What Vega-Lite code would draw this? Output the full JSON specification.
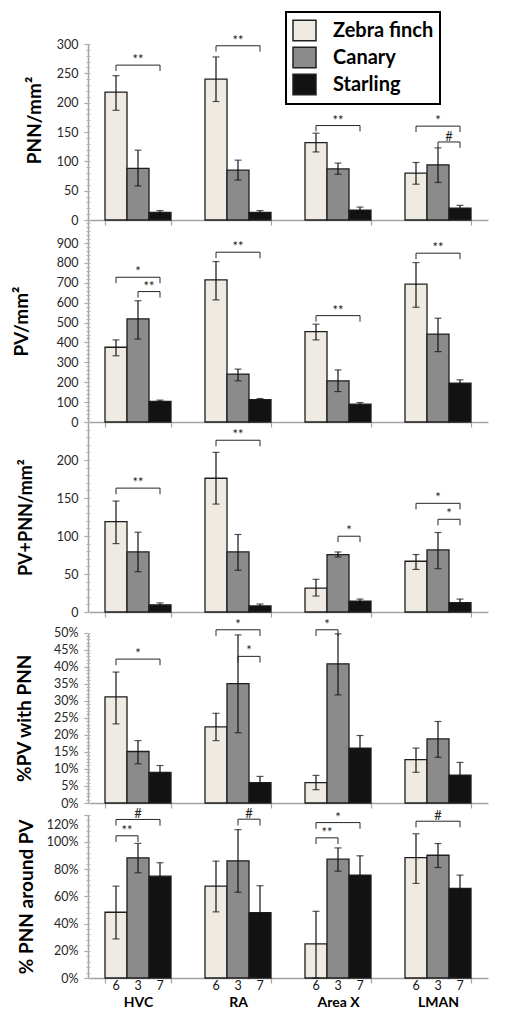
{
  "$schema": "https://vega.github.io/schema/vega-lite/v6.json",
  "padding": {"left": 12, "top": 11, "right": 5, "bottom": 5},
  "bounds": "flush",
  "spacing": 0,
  "datasets": {
    "bars": [
      {"panel": "P1", "region": "HVC", "species": "Zebra finch", "mean": 218, "lo": 187, "hi": 246},
      {"panel": "P1", "region": "HVC", "species": "Canary", "mean": 88, "lo": 58, "hi": 119},
      {"panel": "P1", "region": "HVC", "species": "Starling", "mean": 13, "lo": 10, "hi": 16},
      {"panel": "P1", "region": "RA", "species": "Zebra finch", "mean": 240, "lo": 202, "hi": 278},
      {"panel": "P1", "region": "RA", "species": "Canary", "mean": 85, "lo": 68, "hi": 102},
      {"panel": "P1", "region": "RA", "species": "Starling", "mean": 13, "lo": 10, "hi": 16},
      {"panel": "P1", "region": "Area X", "species": "Zebra finch", "mean": 132, "lo": 116, "hi": 148},
      {"panel": "P1", "region": "Area X", "species": "Canary", "mean": 87, "lo": 78, "hi": 97},
      {"panel": "P1", "region": "Area X", "species": "Starling", "mean": 17, "lo": 12, "hi": 22},
      {"panel": "P1", "region": "LMAN", "species": "Zebra finch", "mean": 80, "lo": 61, "hi": 98},
      {"panel": "P1", "region": "LMAN", "species": "Canary", "mean": 94, "lo": 64, "hi": 123},
      {"panel": "P1", "region": "LMAN", "species": "Starling", "mean": 20, "lo": 15, "hi": 25},
      {"panel": "P2", "region": "HVC", "species": "Zebra finch", "mean": 376, "lo": 333, "hi": 413},
      {"panel": "P2", "region": "HVC", "species": "Canary", "mean": 519, "lo": 417, "hi": 610},
      {"panel": "P2", "region": "HVC", "species": "Starling", "mean": 103, "lo": 96, "hi": 110},
      {"panel": "P2", "region": "RA", "species": "Zebra finch", "mean": 715, "lo": 614, "hi": 807},
      {"panel": "P2", "region": "RA", "species": "Canary", "mean": 241, "lo": 207, "hi": 266},
      {"panel": "P2", "region": "RA", "species": "Starling", "mean": 113, "lo": 108, "hi": 118},
      {"panel": "P2", "region": "Area X", "species": "Zebra finch", "mean": 455, "lo": 413, "hi": 492},
      {"panel": "P2", "region": "Area X", "species": "Canary", "mean": 207, "lo": 153, "hi": 262},
      {"panel": "P2", "region": "Area X", "species": "Starling", "mean": 90, "lo": 82, "hi": 98},
      {"panel": "P2", "region": "LMAN", "species": "Zebra finch", "mean": 693, "lo": 577, "hi": 802},
      {"panel": "P2", "region": "LMAN", "species": "Canary", "mean": 442, "lo": 354, "hi": 522},
      {"panel": "P2", "region": "LMAN", "species": "Starling", "mean": 195, "lo": 178, "hi": 212},
      {"panel": "P3", "region": "HVC", "species": "Zebra finch", "mean": 119, "lo": 90, "hi": 146},
      {"panel": "P3", "region": "HVC", "species": "Canary", "mean": 79, "lo": 53, "hi": 105},
      {"panel": "P3", "region": "HVC", "species": "Starling", "mean": 9.5, "lo": 7, "hi": 12},
      {"panel": "P3", "region": "RA", "species": "Zebra finch", "mean": 176, "lo": 142, "hi": 210},
      {"panel": "P3", "region": "RA", "species": "Canary", "mean": 79, "lo": 55, "hi": 102},
      {"panel": "P3", "region": "RA", "species": "Starling", "mean": 8, "lo": 6, "hi": 10.5},
      {"panel": "P3", "region": "Area X", "species": "Zebra finch", "mean": 31.5, "lo": 21, "hi": 43},
      {"panel": "P3", "region": "Area X", "species": "Canary", "mean": 75.6, "lo": 72.4, "hi": 79},
      {"panel": "P3", "region": "Area X", "species": "Starling", "mean": 14.4, "lo": 12, "hi": 17},
      {"panel": "P3", "region": "LMAN", "species": "Zebra finch", "mean": 66.8, "lo": 56, "hi": 75.6},
      {"panel": "P3", "region": "LMAN", "species": "Canary", "mean": 81.7, "lo": 57, "hi": 104.6},
      {"panel": "P3", "region": "LMAN", "species": "Starling", "mean": 12.3, "lo": 8, "hi": 17},
      {"panel": "P4", "region": "HVC", "species": "Zebra finch", "mean": 0.311, "lo": 0.232, "hi": 0.384},
      {"panel": "P4", "region": "HVC", "species": "Canary", "mean": 0.151, "lo": 0.115, "hi": 0.183},
      {"panel": "P4", "region": "HVC", "species": "Starling", "mean": 0.09, "lo": 0.071, "hi": 0.11},
      {"panel": "P4", "region": "RA", "species": "Zebra finch", "mean": 0.223, "lo": 0.183, "hi": 0.263},
      {"panel": "P4", "region": "RA", "species": "Canary", "mean": 0.35, "lo": 0.206, "hi": 0.493},
      {"panel": "P4", "region": "RA", "species": "Starling", "mean": 0.06, "lo": 0.044, "hi": 0.078},
      {"panel": "P4", "region": "Area X", "species": "Zebra finch", "mean": 0.06, "lo": 0.039, "hi": 0.081},
      {"panel": "P4", "region": "Area X", "species": "Canary", "mean": 0.408, "lo": 0.317, "hi": 0.496},
      {"panel": "P4", "region": "Area X", "species": "Starling", "mean": 0.161, "lo": 0.125, "hi": 0.198},
      {"panel": "P4", "region": "LMAN", "species": "Zebra finch", "mean": 0.127, "lo": 0.09, "hi": 0.161},
      {"panel": "P4", "region": "LMAN", "species": "Canary", "mean": 0.188, "lo": 0.134, "hi": 0.239},
      {"panel": "P4", "region": "LMAN", "species": "Starling", "mean": 0.082, "lo": 0.044, "hi": 0.119},
      {"panel": "P5", "region": "HVC", "species": "Zebra finch", "mean": 0.483, "lo": 0.287, "hi": 0.675},
      {"panel": "P5", "region": "HVC", "species": "Canary", "mean": 0.883, "lo": 0.773, "hi": 0.989},
      {"panel": "P5", "region": "HVC", "species": "Starling", "mean": 0.748, "lo": 0.638, "hi": 0.847},
      {"panel": "P5", "region": "RA", "species": "Zebra finch", "mean": 0.675, "lo": 0.486, "hi": 0.859},
      {"panel": "P5", "region": "RA", "species": "Canary", "mean": 0.861, "lo": 0.63, "hi": 1.09},
      {"panel": "P5", "region": "RA", "species": "Starling", "mean": 0.48, "lo": 0.268, "hi": 0.678},
      {"panel": "P5", "region": "Area X", "species": "Zebra finch", "mean": 0.251, "lo": 0, "hi": 0.49},
      {"panel": "P5", "region": "Area X", "species": "Canary", "mean": 0.873, "lo": 0.785, "hi": 0.956},
      {"panel": "P5", "region": "Area X", "species": "Starling", "mean": 0.756, "lo": 0.617, "hi": 0.898},
      {"panel": "P5", "region": "LMAN", "species": "Zebra finch", "mean": 0.885, "lo": 0.695, "hi": 1.06},
      {"panel": "P5", "region": "LMAN", "species": "Canary", "mean": 0.902, "lo": 0.812, "hi": 0.988},
      {"panel": "P5", "region": "LMAN", "species": "Starling", "mean": 0.659, "lo": 0.554, "hi": 0.756}
    ],
    "brackets": [
      {"panel": "P1", "region": "HVC", "from": "Zebra finch", "to": "Starling", "y": 264, "leg": 254, "label": "**"},
      {"panel": "P1", "region": "RA", "from": "Zebra finch", "to": "Starling", "y": 297, "leg": 287, "label": "**"},
      {"panel": "P1", "region": "Area X", "from": "Zebra finch", "to": "Starling", "y": 161, "leg": 151, "label": "**"},
      {"panel": "P1", "region": "LMAN", "from": "Zebra finch", "to": "Starling", "y": 160, "leg": 150, "label": "*"},
      {"panel": "P1", "region": "LMAN", "from": "Canary", "to": "Starling", "y": 133, "leg": 123, "label": "#"},
      {"panel": "P2", "region": "HVC", "from": "Zebra finch", "to": "Starling", "y": 728, "leg": 698, "label": "*"},
      {"panel": "P2", "region": "HVC", "from": "Canary", "to": "Starling", "y": 656, "leg": 626, "label": "**"},
      {"panel": "P2", "region": "RA", "from": "Zebra finch", "to": "Starling", "y": 854, "leg": 824, "label": "**"},
      {"panel": "P2", "region": "Area X", "from": "Zebra finch", "to": "Starling", "y": 535, "leg": 505, "label": "**"},
      {"panel": "P2", "region": "LMAN", "from": "Zebra finch", "to": "Starling", "y": 849, "leg": 819, "label": "**"},
      {"panel": "P3", "region": "HVC", "from": "Zebra finch", "to": "Starling", "y": 163, "leg": 155, "label": "**"},
      {"panel": "P3", "region": "RA", "from": "Zebra finch", "to": "Starling", "y": 226, "leg": 218, "label": "**"},
      {"panel": "P3", "region": "Area X", "from": "Canary", "to": "Starling", "y": 99.7, "leg": 92, "label": "*"},
      {"panel": "P3", "region": "LMAN", "from": "Zebra finch", "to": "Starling", "y": 143, "leg": 135, "label": "*"},
      {"panel": "P3", "region": "LMAN", "from": "Canary", "to": "Starling", "y": 122, "leg": 114, "label": "*"},
      {"panel": "P4", "region": "HVC", "from": "Zebra finch", "to": "Starling", "y": 0.422, "leg": 0.404, "label": "*"},
      {"panel": "P4", "region": "RA", "from": "Zebra finch", "to": "Starling", "y": 0.508, "leg": 0.49, "label": "*"},
      {"panel": "P4", "region": "RA", "from": "Canary", "to": "Starling", "y": 0.43, "leg": 0.412, "label": "*"},
      {"panel": "P4", "region": "Area X", "from": "Zebra finch", "to": "Canary", "y": 0.508, "leg": 0.49, "label": "*"},
      {"panel": "P5", "region": "HVC", "from": "Zebra finch", "to": "Starling", "y": 1.165, "leg": 1.12, "label": "#"},
      {"panel": "P5", "region": "HVC", "from": "Zebra finch", "to": "Canary", "y": 1.045, "leg": 1.0, "label": "**"},
      {"panel": "P5", "region": "RA", "from": "Canary", "to": "Starling", "y": 1.167, "leg": 1.12, "label": "#"},
      {"panel": "P5", "region": "Area X", "from": "Zebra finch", "to": "Starling", "y": 1.142, "leg": 1.097, "label": "*"},
      {"panel": "P5", "region": "Area X", "from": "Zebra finch", "to": "Canary", "y": 1.03, "leg": 0.985, "label": "**"},
      {"panel": "P5", "region": "LMAN", "from": "Zebra finch", "to": "Starling", "y": 1.152, "leg": 1.107, "label": "#"}
    ],
    "counts": [
      {"region": "HVC", "species": "Zebra finch", "n": 6},
      {"region": "HVC", "species": "Canary", "n": 3},
      {"region": "HVC", "species": "Starling", "n": 7},
      {"region": "RA", "species": "Zebra finch", "n": 6},
      {"region": "RA", "species": "Canary", "n": 3},
      {"region": "RA", "species": "Starling", "n": 7},
      {"region": "Area X", "species": "Zebra finch", "n": 6},
      {"region": "Area X", "species": "Canary", "n": 3},
      {"region": "Area X", "species": "Starling", "n": 7},
      {"region": "LMAN", "species": "Zebra finch", "n": 6},
      {"region": "LMAN", "species": "Canary", "n": 3},
      {"region": "LMAN", "species": "Starling", "n": 7}
    ]
  },
  "vconcat": [
    {
      "width": 400, "height": 176,
      "resolve": {"axis": {"y": "independent"}},
      "encoding": {"x": {"field": "region", "type": "nominal", "title": null, "scale": {"domain": ["HVC", "RA", "Area X", "LMAN"], "paddingInner": 0.34, "paddingOuter": 0.17}, "axis": {"labels": false}}},
      "layer": [
        {"data": {"name": "bars"}, "transform": [{"filter": "datum.panel == 'P1'"}],
         "mark": {"type": "bar", "stroke": "#1e1e1e", "strokeWidth": 1.3},
         "encoding": {
           "xOffset": {"field": "species", "type": "nominal", "scale": {"domain": ["Zebra finch", "Canary", "Starling"], "paddingInner": 0, "paddingOuter": 0}},
           "y": {"field": "mean", "type": "quantitative", "title": "PNN/mm²", "scale": {"domain": [0, 300], "nice": false}, "axis": {"orient": "left", "values": [0, 50, 100, 150, 200, 250, 300], "titlePadding": 12, "titleY": 76}},
           "fill": {"field": "species", "type": "nominal", "title": null, "scale": {"domain": ["Zebra finch", "Canary", "Starling"], "range": ["#efebe2", "#8b8b8b", "#121212"]}}
         }},
        {"data": {"name": "bars"}, "transform": [{"filter": "datum.panel == 'P1'"}],
         "mark": {"type": "rule", "color": "#111", "strokeWidth": 1.2},
         "encoding": {
           "xOffset": {"field": "species", "type": "nominal", "scale": {"domain": ["Zebra finch", "Canary", "Starling"], "paddingInner": 0, "paddingOuter": 0}},
           "y": {"field": "lo", "type": "quantitative", "scale": {"domain": [0, 300], "nice": false}, "axis": {"orient": "left", "domain": false, "labels": false, "tickSize": 4, "offset": -2, "tickCount": 30, "tickColor": "#b5b5b5", "tickWidth": 1, "title": null}},
           "y2": {"field": "hi"}
         }},
        {"data": {"name": "bars"}, "transform": [{"filter": "datum.panel == 'P1'"}, {"fold": ["lo", "hi"], "as": ["bound", "v"]}],
         "mark": {"type": "tick", "color": "#111", "size": 7, "thickness": 1.2},
         "encoding": {
           "xOffset": {"field": "species", "type": "nominal", "scale": {"domain": ["Zebra finch", "Canary", "Starling"], "paddingInner": 0, "paddingOuter": 0}},
           "y": {"field": "v", "type": "quantitative", "scale": {"domain": [0, 300], "nice": false}, "axis": null}
         }},
        {"data": {"name": "brackets"}, "transform": [{"filter": "datum.panel == 'P1'"}, {"fold": ["from", "to"], "as": ["end", "species"]}],
         "mark": {"type": "rule", "color": "#262626", "strokeWidth": 1},
         "encoding": {
           "xOffset": {"field": "species", "type": "nominal", "scale": {"domain": ["Zebra finch", "Canary", "Starling"], "paddingInner": 0, "paddingOuter": 0}},
           "y": {"field": "y", "type": "quantitative", "scale": {"domain": [0, 300], "nice": false}, "axis": null},
           "y2": {"field": "leg"}
         }},
        {"data": {"name": "brackets"}, "transform": [{"filter": "datum.panel == 'P1'"}, {"fold": ["from", "to"], "as": ["end", "species"]}],
         "mark": {"type": "line", "color": "#262626", "strokeWidth": 1},
         "encoding": {
           "xOffset": {"field": "species", "type": "nominal", "scale": {"domain": ["Zebra finch", "Canary", "Starling"], "paddingInner": 0, "paddingOuter": 0}},
           "y": {"field": "y", "type": "quantitative", "scale": {"domain": [0, 300], "nice": false}, "axis": null},
           "detail": [{"field": "region"}, {"field": "y"}]
         }},
        {"data": {"name": "brackets"}, "transform": [{"filter": "datum.panel == 'P1' && datum.from == 'Zebra finch' && datum.to == 'Starling'"}],
         "mark": {"type": "text", "baseline": "alphabetic", "dy": -1, "fontSize": 13, "color": "#222"},
         "encoding": {
           "xOffset": {"datum": "Canary", "type": "nominal", "scale": {"domain": ["Zebra finch", "Canary", "Starling"], "paddingInner": 0, "paddingOuter": 0}},
           "y": {"field": "y", "type": "quantitative", "scale": {"domain": [0, 300], "nice": false}, "axis": null},
           "text": {"field": "label"}
         }},
        {"data": {"name": "brackets"}, "transform": [{"filter": "datum.panel == 'P1' && !(datum.from == 'Zebra finch' && datum.to == 'Starling')"}],
         "mark": {"type": "text", "baseline": "alphabetic", "dy": -1, "dx": 11, "fontSize": 13, "color": "#222"},
         "encoding": {
           "xOffset": {"field": "from", "type": "nominal", "scale": {"domain": ["Zebra finch", "Canary", "Starling"], "paddingInner": 0, "paddingOuter": 0}},
           "y": {"field": "y", "type": "quantitative", "scale": {"domain": [0, 300], "nice": false}, "axis": null},
           "text": {"field": "label"}
         }}
      ]
    },
    {
      "width": 400, "height": 202,
      "resolve": {"axis": {"y": "independent"}},
      "encoding": {"x": {"field": "region", "type": "nominal", "title": null, "scale": {"domain": ["HVC", "RA", "Area X", "LMAN"], "paddingInner": 0.34, "paddingOuter": 0.17}, "axis": {"labels": false}}},
      "layer": [
        {"data": {"name": "bars"}, "transform": [{"filter": "datum.panel == 'P2'"}],
         "mark": {"type": "bar", "stroke": "#1e1e1e", "strokeWidth": 1.3},
         "encoding": {
           "xOffset": {"field": "species", "type": "nominal", "scale": {"domain": ["Zebra finch", "Canary", "Starling"], "paddingInner": 0, "paddingOuter": 0}},
           "y": {"field": "mean", "type": "quantitative", "title": "PV/mm²", "scale": {"domain": [0, 1016], "nice": false}, "axis": {"orient": "left", "values": [0, 100, 200, 300, 400, 500, 600, 700, 800, 900], "titlePadding": 25}},
           "fill": {"field": "species", "type": "nominal", "title": null, "scale": {"domain": ["Zebra finch", "Canary", "Starling"], "range": ["#efebe2", "#8b8b8b", "#121212"]}}
         }},
        {"data": {"name": "bars"}, "transform": [{"filter": "datum.panel == 'P2'"}],
         "mark": {"type": "rule", "color": "#111", "strokeWidth": 1.2},
         "encoding": {
           "xOffset": {"field": "species", "type": "nominal", "scale": {"domain": ["Zebra finch", "Canary", "Starling"], "paddingInner": 0, "paddingOuter": 0}},
           "y": {"field": "lo", "type": "quantitative", "scale": {"domain": [0, 1016], "nice": false}, "axis": {"orient": "left", "domain": false, "labels": false, "tickSize": 4, "offset": -2, "tickCount": 50, "tickColor": "#b5b5b5", "tickWidth": 1, "title": null}},
           "y2": {"field": "hi"}
         }},
        {"data": {"name": "bars"}, "transform": [{"filter": "datum.panel == 'P2'"}, {"fold": ["lo", "hi"], "as": ["bound", "v"]}],
         "mark": {"type": "tick", "color": "#111", "size": 7, "thickness": 1.2},
         "encoding": {
           "xOffset": {"field": "species", "type": "nominal", "scale": {"domain": ["Zebra finch", "Canary", "Starling"], "paddingInner": 0, "paddingOuter": 0}},
           "y": {"field": "v", "type": "quantitative", "scale": {"domain": [0, 1016], "nice": false}, "axis": null}
         }},
        {"data": {"name": "brackets"}, "transform": [{"filter": "datum.panel == 'P2'"}, {"fold": ["from", "to"], "as": ["end", "species"]}],
         "mark": {"type": "rule", "color": "#262626", "strokeWidth": 1},
         "encoding": {
           "xOffset": {"field": "species", "type": "nominal", "scale": {"domain": ["Zebra finch", "Canary", "Starling"], "paddingInner": 0, "paddingOuter": 0}},
           "y": {"field": "y", "type": "quantitative", "scale": {"domain": [0, 1016], "nice": false}, "axis": null},
           "y2": {"field": "leg"}
         }},
        {"data": {"name": "brackets"}, "transform": [{"filter": "datum.panel == 'P2'"}, {"fold": ["from", "to"], "as": ["end", "species"]}],
         "mark": {"type": "line", "color": "#262626", "strokeWidth": 1},
         "encoding": {
           "xOffset": {"field": "species", "type": "nominal", "scale": {"domain": ["Zebra finch", "Canary", "Starling"], "paddingInner": 0, "paddingOuter": 0}},
           "y": {"field": "y", "type": "quantitative", "scale": {"domain": [0, 1016], "nice": false}, "axis": null},
           "detail": [{"field": "region"}, {"field": "y"}]
         }},
        {"data": {"name": "brackets"}, "transform": [{"filter": "datum.panel == 'P2' && datum.from == 'Zebra finch' && datum.to == 'Starling'"}],
         "mark": {"type": "text", "baseline": "alphabetic", "dy": -1, "fontSize": 13, "color": "#222"},
         "encoding": {
           "xOffset": {"datum": "Canary", "type": "nominal", "scale": {"domain": ["Zebra finch", "Canary", "Starling"], "paddingInner": 0, "paddingOuter": 0}},
           "y": {"field": "y", "type": "quantitative", "scale": {"domain": [0, 1016], "nice": false}, "axis": null},
           "text": {"field": "label"}
         }},
        {"data": {"name": "brackets"}, "transform": [{"filter": "datum.panel == 'P2' && !(datum.from == 'Zebra finch' && datum.to == 'Starling')"}],
         "mark": {"type": "text", "baseline": "alphabetic", "dy": -1, "dx": 11, "fontSize": 13, "color": "#222"},
         "encoding": {
           "xOffset": {"field": "from", "type": "nominal", "scale": {"domain": ["Zebra finch", "Canary", "Starling"], "paddingInner": 0, "paddingOuter": 0}},
           "y": {"field": "y", "type": "quantitative", "scale": {"domain": [0, 1016], "nice": false}, "axis": null},
           "text": {"field": "label"}
         }}
      ]
    },
    {
      "width": 400, "height": 190,
      "resolve": {"axis": {"y": "independent"}},
      "encoding": {"x": {"field": "region", "type": "nominal", "title": null, "scale": {"domain": ["HVC", "RA", "Area X", "LMAN"], "paddingInner": 0.34, "paddingOuter": 0.17}, "axis": {"labels": false}}},
      "layer": [
        {"data": {"name": "bars"}, "transform": [{"filter": "datum.panel == 'P3'"}],
         "mark": {"type": "bar", "stroke": "#1e1e1e", "strokeWidth": 1.3},
         "encoding": {
           "xOffset": {"field": "species", "type": "nominal", "scale": {"domain": ["Zebra finch", "Canary", "Starling"], "paddingInner": 0, "paddingOuter": 0}},
           "y": {"field": "mean", "type": "quantitative", "title": "PV+PNN/mm²", "scale": {"domain": [0, 250], "nice": false}, "axis": {"orient": "left", "values": [0, 50, 100, 150, 200], "titlePadding": 21, "titleFontSize": 18}},
           "fill": {"field": "species", "type": "nominal", "title": null, "scale": {"domain": ["Zebra finch", "Canary", "Starling"], "range": ["#efebe2", "#8b8b8b", "#121212"]}}
         }},
        {"data": {"name": "bars"}, "transform": [{"filter": "datum.panel == 'P3'"}],
         "mark": {"type": "rule", "color": "#111", "strokeWidth": 1.2},
         "encoding": {
           "xOffset": {"field": "species", "type": "nominal", "scale": {"domain": ["Zebra finch", "Canary", "Starling"], "paddingInner": 0, "paddingOuter": 0}},
           "y": {"field": "lo", "type": "quantitative", "scale": {"domain": [0, 250], "nice": false}, "axis": {"orient": "left", "domain": false, "labels": false, "tickSize": 4, "offset": -2, "tickCount": 25, "tickColor": "#b5b5b5", "tickWidth": 1, "title": null}},
           "y2": {"field": "hi"}
         }},
        {"data": {"name": "bars"}, "transform": [{"filter": "datum.panel == 'P3'"}, {"fold": ["lo", "hi"], "as": ["bound", "v"]}],
         "mark": {"type": "tick", "color": "#111", "size": 7, "thickness": 1.2},
         "encoding": {
           "xOffset": {"field": "species", "type": "nominal", "scale": {"domain": ["Zebra finch", "Canary", "Starling"], "paddingInner": 0, "paddingOuter": 0}},
           "y": {"field": "v", "type": "quantitative", "scale": {"domain": [0, 250], "nice": false}, "axis": null}
         }},
        {"data": {"name": "brackets"}, "transform": [{"filter": "datum.panel == 'P3'"}, {"fold": ["from", "to"], "as": ["end", "species"]}],
         "mark": {"type": "rule", "color": "#262626", "strokeWidth": 1},
         "encoding": {
           "xOffset": {"field": "species", "type": "nominal", "scale": {"domain": ["Zebra finch", "Canary", "Starling"], "paddingInner": 0, "paddingOuter": 0}},
           "y": {"field": "y", "type": "quantitative", "scale": {"domain": [0, 250], "nice": false}, "axis": null},
           "y2": {"field": "leg"}
         }},
        {"data": {"name": "brackets"}, "transform": [{"filter": "datum.panel == 'P3'"}, {"fold": ["from", "to"], "as": ["end", "species"]}],
         "mark": {"type": "line", "color": "#262626", "strokeWidth": 1},
         "encoding": {
           "xOffset": {"field": "species", "type": "nominal", "scale": {"domain": ["Zebra finch", "Canary", "Starling"], "paddingInner": 0, "paddingOuter": 0}},
           "y": {"field": "y", "type": "quantitative", "scale": {"domain": [0, 250], "nice": false}, "axis": null},
           "detail": [{"field": "region"}, {"field": "y"}]
         }},
        {"data": {"name": "brackets"}, "transform": [{"filter": "datum.panel == 'P3' && datum.from == 'Zebra finch' && datum.to == 'Starling'"}],
         "mark": {"type": "text", "baseline": "alphabetic", "dy": -1, "fontSize": 13, "color": "#222"},
         "encoding": {
           "xOffset": {"datum": "Canary", "type": "nominal", "scale": {"domain": ["Zebra finch", "Canary", "Starling"], "paddingInner": 0, "paddingOuter": 0}},
           "y": {"field": "y", "type": "quantitative", "scale": {"domain": [0, 250], "nice": false}, "axis": null},
           "text": {"field": "label"}
         }},
        {"data": {"name": "brackets"}, "transform": [{"filter": "datum.panel == 'P3' && !(datum.from == 'Zebra finch' && datum.to == 'Starling')"}],
         "mark": {"type": "text", "baseline": "alphabetic", "dy": -1, "dx": 11, "fontSize": 13, "color": "#222"},
         "encoding": {
           "xOffset": {"field": "from", "type": "nominal", "scale": {"domain": ["Zebra finch", "Canary", "Starling"], "paddingInner": 0, "paddingOuter": 0}},
           "y": {"field": "y", "type": "quantitative", "scale": {"domain": [0, 250], "nice": false}, "axis": null},
           "text": {"field": "label"}
         }}
      ]
    },
    {
      "width": 400, "height": 191,
      "resolve": {"axis": {"y": "independent"}},
      "encoding": {"x": {"field": "region", "type": "nominal", "title": null, "scale": {"domain": ["HVC", "RA", "Area X", "LMAN"], "paddingInner": 0.34, "paddingOuter": 0.17}, "axis": {"labels": false}}},
      "layer": [
        {"data": {"name": "bars"}, "transform": [{"filter": "datum.panel == 'P4'"}],
         "mark": {"type": "bar", "stroke": "#1e1e1e", "strokeWidth": 1.3},
         "encoding": {
           "xOffset": {"field": "species", "type": "nominal", "scale": {"domain": ["Zebra finch", "Canary", "Starling"], "paddingInner": 0, "paddingOuter": 0}},
           "y": {"field": "mean", "type": "quantitative", "title": "%PV with PNN", "scale": {"domain": [0, 0.5], "nice": false, "range": [191, 20.5]}, "axis": {"orient": "left", "values": [0, 0.05, 0.1, 0.15, 0.2, 0.25, 0.3, 0.35, 0.4, 0.45, 0.5], "format": ".0%", "titlePadding": 19}},
           "fill": {"field": "species", "type": "nominal", "title": null, "scale": {"domain": ["Zebra finch", "Canary", "Starling"], "range": ["#efebe2", "#8b8b8b", "#121212"]}}
         }},
        {"data": {"name": "bars"}, "transform": [{"filter": "datum.panel == 'P4'"}],
         "mark": {"type": "rule", "color": "#111", "strokeWidth": 1.2},
         "encoding": {
           "xOffset": {"field": "species", "type": "nominal", "scale": {"domain": ["Zebra finch", "Canary", "Starling"], "paddingInner": 0, "paddingOuter": 0}},
           "y": {"field": "lo", "type": "quantitative", "scale": {"domain": [0, 0.5], "nice": false, "range": [191, 20.5]}, "axis": {"orient": "left", "domain": false, "labels": false, "tickSize": 4, "offset": -2, "tickCount": 50, "tickColor": "#b5b5b5", "tickWidth": 1, "title": null}},
           "y2": {"field": "hi"}
         }},
        {"data": {"name": "bars"}, "transform": [{"filter": "datum.panel == 'P4'"}, {"fold": ["lo", "hi"], "as": ["bound", "v"]}],
         "mark": {"type": "tick", "color": "#111", "size": 7, "thickness": 1.2},
         "encoding": {
           "xOffset": {"field": "species", "type": "nominal", "scale": {"domain": ["Zebra finch", "Canary", "Starling"], "paddingInner": 0, "paddingOuter": 0}},
           "y": {"field": "v", "type": "quantitative", "scale": {"domain": [0, 0.5], "nice": false, "range": [191, 20.5]}, "axis": null}
         }},
        {"data": {"name": "brackets"}, "transform": [{"filter": "datum.panel == 'P4'"}, {"fold": ["from", "to"], "as": ["end", "species"]}],
         "mark": {"type": "rule", "color": "#262626", "strokeWidth": 1},
         "encoding": {
           "xOffset": {"field": "species", "type": "nominal", "scale": {"domain": ["Zebra finch", "Canary", "Starling"], "paddingInner": 0, "paddingOuter": 0}},
           "y": {"field": "y", "type": "quantitative", "scale": {"domain": [0, 0.5], "nice": false, "range": [191, 20.5]}, "axis": null},
           "y2": {"field": "leg"}
         }},
        {"data": {"name": "brackets"}, "transform": [{"filter": "datum.panel == 'P4'"}, {"fold": ["from", "to"], "as": ["end", "species"]}],
         "mark": {"type": "line", "color": "#262626", "strokeWidth": 1},
         "encoding": {
           "xOffset": {"field": "species", "type": "nominal", "scale": {"domain": ["Zebra finch", "Canary", "Starling"], "paddingInner": 0, "paddingOuter": 0}},
           "y": {"field": "y", "type": "quantitative", "scale": {"domain": [0, 0.5], "nice": false, "range": [191, 20.5]}, "axis": null},
           "detail": [{"field": "region"}, {"field": "y"}]
         }},
        {"data": {"name": "brackets"}, "transform": [{"filter": "datum.panel == 'P4' && datum.from == 'Zebra finch' && datum.to == 'Starling'"}],
         "mark": {"type": "text", "baseline": "alphabetic", "dy": -1, "fontSize": 13, "color": "#222"},
         "encoding": {
           "xOffset": {"datum": "Canary", "type": "nominal", "scale": {"domain": ["Zebra finch", "Canary", "Starling"], "paddingInner": 0, "paddingOuter": 0}},
           "y": {"field": "y", "type": "quantitative", "scale": {"domain": [0, 0.5], "nice": false, "range": [191, 20.5]}, "axis": null},
           "text": {"field": "label"}
         }},
        {"data": {"name": "brackets"}, "transform": [{"filter": "datum.panel == 'P4' && !(datum.from == 'Zebra finch' && datum.to == 'Starling')"}],
         "mark": {"type": "text", "baseline": "alphabetic", "dy": -1, "dx": 11, "fontSize": 13, "color": "#222"},
         "encoding": {
           "xOffset": {"field": "from", "type": "nominal", "scale": {"domain": ["Zebra finch", "Canary", "Starling"], "paddingInner": 0, "paddingOuter": 0}},
           "y": {"field": "y", "type": "quantitative", "scale": {"domain": [0, 0.5], "nice": false, "range": [191, 20.5]}, "axis": null},
           "text": {"field": "label"}
         }}
      ]
    },
    {
      "width": 400, "height": 175,
      "resolve": {"axis": {"y": "independent"}},
      "encoding": {"x": {"field": "region", "type": "nominal", "title": null, "scale": {"domain": ["HVC", "RA", "Area X", "LMAN"], "paddingInner": 0.34, "paddingOuter": 0.17}, "axis": {"labels": true, "labelAngle": 0, "labelFontWeight": "bold", "labelFontSize": 14, "labelColor": "#000", "labelPadding": 12}}},
      "layer": [
        {"data": {"name": "bars"}, "transform": [{"filter": "datum.panel == 'P5'"}],
         "mark": {"type": "bar", "stroke": "#1e1e1e", "strokeWidth": 1.3},
         "encoding": {
           "xOffset": {"field": "species", "type": "nominal", "scale": {"domain": ["Zebra finch", "Canary", "Starling"], "paddingInner": 0, "paddingOuter": 0}},
           "y": {"field": "mean", "type": "quantitative", "title": "% PNN around PV", "scale": {"domain": [0, 1.2], "nice": false, "range": [175, 11.7]}, "axis": {"orient": "left", "values": [0, 0.2, 0.4, 0.6, 0.8, 1, 1.2], "format": ".0%", "titlePadding": 10, "labelOffset": {"condition": {"test": "datum.value > 1.1", "value": 10}, "value": 0}}},
           "fill": {"field": "species", "type": "nominal", "title": null, "scale": {"domain": ["Zebra finch", "Canary", "Starling"], "range": ["#efebe2", "#8b8b8b", "#121212"]}}
         }},
        {"data": {"name": "bars"}, "transform": [{"filter": "datum.panel == 'P5'"}],
         "mark": {"type": "rule", "color": "#111", "strokeWidth": 1.2},
         "encoding": {
           "xOffset": {"field": "species", "type": "nominal", "scale": {"domain": ["Zebra finch", "Canary", "Starling"], "paddingInner": 0, "paddingOuter": 0}},
           "y": {"field": "lo", "type": "quantitative", "scale": {"domain": [0, 1.2], "nice": false, "range": [175, 11.7]}, "axis": {"orient": "left", "domain": false, "labels": false, "tickSize": 4, "offset": -2, "values": [0, 0.04, 0.08, 0.12, 0.16, 0.2, 0.24, 0.28, 0.32, 0.36, 0.4, 0.44, 0.48, 0.52, 0.56, 0.6, 0.64, 0.68, 0.72, 0.76, 0.8, 0.84, 0.88, 0.92, 0.96, 1, 1.04, 1.08, 1.12, 1.16, 1.2], "tickColor": "#b5b5b5", "tickWidth": 1, "title": null}},
           "y2": {"field": "hi"}
         }},
        {"data": {"name": "bars"}, "transform": [{"filter": "datum.panel == 'P5'"}, {"fold": ["lo", "hi"], "as": ["bound", "v"]}],
         "mark": {"type": "tick", "color": "#111", "size": 7, "thickness": 1.2},
         "encoding": {
           "xOffset": {"field": "species", "type": "nominal", "scale": {"domain": ["Zebra finch", "Canary", "Starling"], "paddingInner": 0, "paddingOuter": 0}},
           "y": {"field": "v", "type": "quantitative", "scale": {"domain": [0, 1.2], "nice": false, "range": [175, 11.7]}, "axis": null}
         }},
        {"data": {"name": "brackets"}, "transform": [{"filter": "datum.panel == 'P5'"}, {"fold": ["from", "to"], "as": ["end", "species"]}],
         "mark": {"type": "rule", "color": "#262626", "strokeWidth": 1},
         "encoding": {
           "xOffset": {"field": "species", "type": "nominal", "scale": {"domain": ["Zebra finch", "Canary", "Starling"], "paddingInner": 0, "paddingOuter": 0}},
           "y": {"field": "y", "type": "quantitative", "scale": {"domain": [0, 1.2], "nice": false, "range": [175, 11.7]}, "axis": null},
           "y2": {"field": "leg"}
         }},
        {"data": {"name": "brackets"}, "transform": [{"filter": "datum.panel == 'P5'"}, {"fold": ["from", "to"], "as": ["end", "species"]}],
         "mark": {"type": "line", "color": "#262626", "strokeWidth": 1},
         "encoding": {
           "xOffset": {"field": "species", "type": "nominal", "scale": {"domain": ["Zebra finch", "Canary", "Starling"], "paddingInner": 0, "paddingOuter": 0}},
           "y": {"field": "y", "type": "quantitative", "scale": {"domain": [0, 1.2], "nice": false, "range": [175, 11.7]}, "axis": null},
           "detail": [{"field": "region"}, {"field": "y"}]
         }},
        {"data": {"name": "brackets"}, "transform": [{"filter": "datum.panel == 'P5' && datum.from == 'Zebra finch' && datum.to == 'Starling'"}],
         "mark": {"type": "text", "baseline": "alphabetic", "dy": -1, "fontSize": 13, "color": "#222"},
         "encoding": {
           "xOffset": {"datum": "Canary", "type": "nominal", "scale": {"domain": ["Zebra finch", "Canary", "Starling"], "paddingInner": 0, "paddingOuter": 0}},
           "y": {"field": "y", "type": "quantitative", "scale": {"domain": [0, 1.2], "nice": false, "range": [175, 11.7]}, "axis": null},
           "text": {"field": "label"}
         }},
        {"data": {"name": "brackets"}, "transform": [{"filter": "datum.panel == 'P5' && !(datum.from == 'Zebra finch' && datum.to == 'Starling')"}],
         "mark": {"type": "text", "baseline": "alphabetic", "dy": -1, "dx": 11, "fontSize": 13, "color": "#222"},
         "encoding": {
           "xOffset": {"field": "from", "type": "nominal", "scale": {"domain": ["Zebra finch", "Canary", "Starling"], "paddingInner": 0, "paddingOuter": 0}},
           "y": {"field": "y", "type": "quantitative", "scale": {"domain": [0, 1.2], "nice": false, "range": [175, 11.7]}, "axis": null},
           "text": {"field": "label"}
         }},
        {"data": {"name": "counts"},
         "mark": {"type": "text", "baseline": "middle", "fontSize": 12.5, "color": "#111"},
         "encoding": {
           "xOffset": {"field": "species", "type": "nominal", "scale": {"domain": ["Zebra finch", "Canary", "Starling"], "paddingInner": 0, "paddingOuter": 0}},
           "y": {"datum": -0.06, "type": "quantitative", "scale": {"domain": [0, 1.2], "nice": false, "range": [175, 11.7]}, "axis": null},
           "text": {"field": "n"}
         }}
      ]
    }
  ],
  "config": {
    "font": "Lato",
    "view": {"stroke": null},
    "text": {"font": "Lato"},
    "axis": {"domainColor": "#a3a3a3", "domainWidth": 1.5, "tickColor": "#a3a3a3", "tickWidth": 1.2, "labelFont": "Lato", "labelColor": "#262626", "titleFont": "Lato", "titleColor": "#000", "grid": false},
    "axisY": {"tickSize": 4, "labelPadding": 6, "labelFontSize": 12.5, "titleFontSize": 19, "titleFontWeight": "bold"},
    "axisX": {"tickSize": 5, "tickBand": "extent", "labelAngle": 0},
    "legend": {"orient": "none", "legendX": 198, "legendY": -32, "strokeColor": "#000", "strokeWidth": 2, "fillColor": "#fff", "padding": 6, "symbolType": "M-1,-0.9H1V0.9H-1Z", "symbolSize": 529, "symbolStrokeColor": "#222", "symbolStrokeWidth": 1.5, "labelFont": "Lato", "labelFontSize": 20, "labelFontWeight": "bold", "labelColor": "#000", "labelOffset": 16, "rowPadding": 0, "cornerRadius": 0}
  }
}
